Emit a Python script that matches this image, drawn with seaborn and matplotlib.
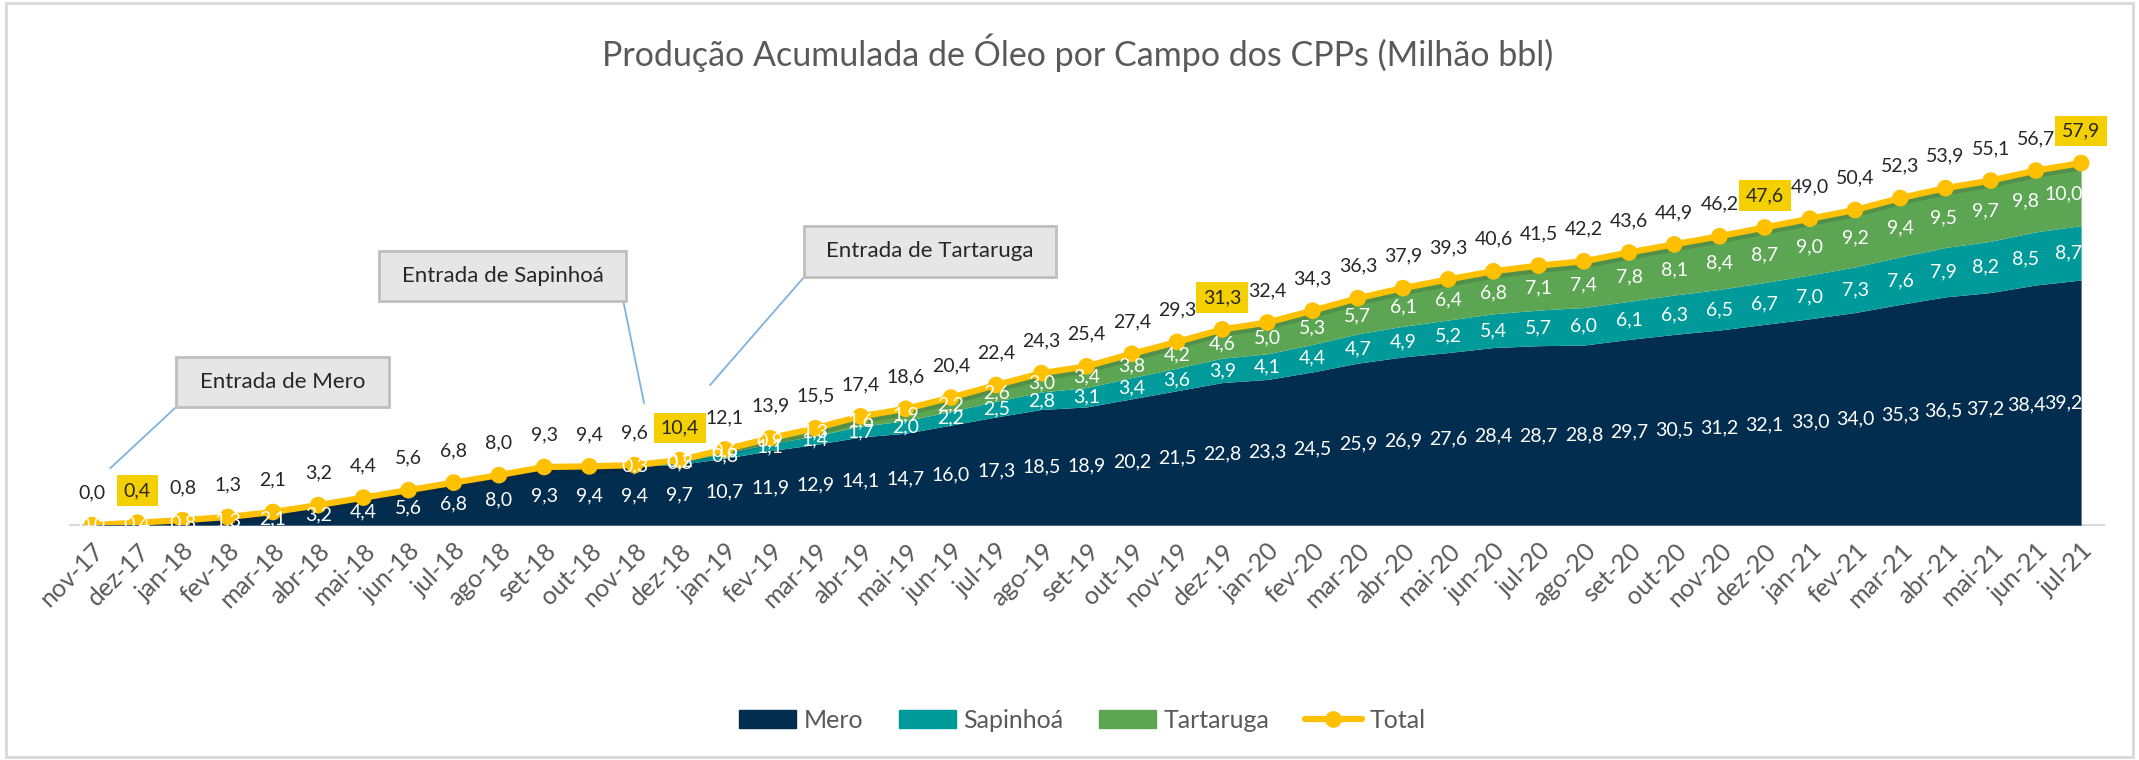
import numpy as np
import pandas as pd
import matplotlib
matplotlib.use('Agg')
import matplotlib.pyplot as plt
import matplotlib.patheffects as pe
from matplotlib.patches import Rectangle, Patch
from matplotlib.lines import Line2D
import seaborn as sns

# dados (milhão bbl, acumulado)
meses = ["nov-17", "dez-17",
         "jan-18", "fev-18", "mar-18", "abr-18", "mai-18", "jun-18", "jul-18", "ago-18", "set-18", "out-18", "nov-18", "dez-18",
         "jan-19", "fev-19", "mar-19", "abr-19", "mai-19", "jun-19", "jul-19", "ago-19", "set-19", "out-19", "nov-19", "dez-19",
         "jan-20", "fev-20", "mar-20", "abr-20", "mai-20", "jun-20", "jul-20", "ago-20", "set-20", "out-20", "nov-20", "dez-20",
         "jan-21", "fev-21", "mar-21", "abr-21", "mai-21", "jun-21", "jul-21"]
mero = [0.0, 0.4,
        0.8, 1.3, 2.1, 3.2, 4.4, 5.6, 6.8, 8.0, 9.3, 9.4, 9.4, 9.7,
        10.7, 11.9, 12.9, 14.1, 14.7, 16.0, 17.3, 18.5, 18.9, 20.2, 21.5, 22.8,
        23.3, 24.5, 25.9, 26.9, 27.6, 28.4, 28.7, 28.8, 29.7, 30.5, 31.2, 32.1,
        33.0, 34.0, 35.3, 36.5, 37.2, 38.4, 39.2]
sapinhoa = [None, None,
            None, None, None, None, None, None, None, None, None, None, 0.3, 0.5,
            0.8, 1.1, 1.4, 1.7, 2.0, 2.2, 2.5, 2.8, 3.1, 3.4, 3.6, 3.9,
            4.1, 4.4, 4.7, 4.9, 5.2, 5.4, 5.7, 6.0, 6.1, 6.3, 6.5, 6.7,
            7.0, 7.3, 7.6, 7.9, 8.2, 8.5, 8.7]
tartaruga = [None, None,
             None, None, None, None, None, None, None, None, None, None, None, 0.2,
             0.6, 0.9, 1.3, 1.6, 1.9, 2.2, 2.6, 3.0, 3.4, 3.8, 4.2, 4.6,
             5.0, 5.3, 5.7, 6.1, 6.4, 6.8, 7.1, 7.4, 7.8, 8.1, 8.4, 8.7,
             9.0, 9.2, 9.4, 9.5, 9.7, 9.8, 10.0]
total = [0.0, 0.4,
         0.8, 1.3, 2.1, 3.2, 4.4, 5.6, 6.8, 8.0, 9.3, 9.4, 9.6, 10.4,
         12.1, 13.9, 15.5, 17.4, 18.6, 20.4, 22.4, 24.3, 25.4, 27.4, 29.3, 31.3,
         32.4, 34.3, 36.3, 37.9, 39.3, 40.6, 41.5, 42.2, 43.6, 44.9, 46.2, 47.6,
         49.0, 50.4, 52.3, 53.9, 55.1, 56.7, 57.9]
destaques = ["dez-17", "dez-18", "dez-19", "dez-20", "jul-21"]

titulo = "Produção Acumulada de Óleo por Campo dos CPPs (Milhão bbl)"
series = ["Mero", "Sapinhoá", "Tartaruga"]
cores = ["#032D4E", "#009A9A", "#5CA553"]
amarelo = "#FFC000"
realce = "#F5D000"
cinza_txt = "#595959"
cinza_lin = "#D9D9D9"

sns.set_theme(style="white")
plt.rcParams['font.family'] = ['Lato', 'DejaVu Sans']

df = pd.DataFrame({"mes": meses, "Mero": mero, "Sapinhoá": sapinhoa,
                   "Tartaruga": tartaruga, "Total": total})
df["x"] = np.arange(len(df))
vals = df[series].fillna(0.0)
ultimo = len(df) - 1
# no fim da área os rótulos vão sendo puxados para a esquerda, como no Excel
desloc = {ultimo - 3: -0.05, ultimo - 2: -0.12, ultimo - 1: -0.22}

def fmt(v):
    return f"{v:.1f}".replace(".", ",")

fig = plt.figure(figsize=(21.39, 7.6), dpi=100)
ax = fig.add_axes([0.0325, 0.309, 0.951, 0.576])

ax.stackplot(df["x"], vals["Mero"], vals["Sapinhoá"], vals["Tartaruga"],
             colors=cores, zorder=1, linewidth=0)

sns.lineplot(data=df, x="x", y="Total", ax=ax, color=amarelo, linewidth=4.5,
             marker="o", markersize=12, markeredgewidth=0, legend=False, zorder=3)
ax.lines[-1].set_path_effects([pe.SimpleLineShadow(offset=(0, -3), shadow_color="k", alpha=0.15),
                               pe.Normal()])

# rótulos das áreas (centro de cada faixa)
base = np.zeros(len(df))
for s in series:
    for i, v in enumerate(df[s]):
        if pd.isna(v):
            continue
        xi, ha = i + desloc.get(i, 0.0), "center"
        if i == ultimo:
            xi, ha = i + 0.03, "right"
        ax.text(xi, base[i] + v / 2, fmt(v), color="white", ha=ha, va="center",
                fontsize=14, zorder=5)
    base = base + vals[s].values

# rótulos do total
for i, v in enumerate(total):
    box = None
    if meses[i] in destaques:
        box = dict(boxstyle="square,pad=0.35", fc=realce, ec="none")
    ax.annotate(fmt(v), (i, v), xytext=(0, 23), textcoords="offset points",
                ha="center", va="center", fontsize=14, color="#262626", bbox=box, zorder=6)

# caixas de chamada
chamadas = [("Entrada de Mero", 4.21, 22.96, 4.71, (1.86, 18.9), (0.40, 9.1)),
            ("Entrada de Sapinhoá", 9.08, 39.84, 5.46, (11.75, 35.84), (12.21, 19.5)),
            ("Entrada de Tartaruga", 18.54, 43.76, 5.58, (15.75, 39.68), (13.67, 22.4))]
for txt, cx, cy, w, p0, p1 in chamadas:
    ax.plot([p0[0], p1[0]], [p0[1], p1[1]], color="#7FB2E0", lw=1.3, zorder=4)
    ax.add_patch(Rectangle((cx - w / 2, cy - 4.0), w, 8.0, fc="#E7E6E6", ec="#BFBFBF",
                           lw=2, zorder=7))
    ax.text(cx, cy, txt, ha="center", va="center", fontsize=16, color="#262626", zorder=8)

ax.set_xlim(-0.5, len(df) - 0.5)
ax.set_ylim(0, 70)
ax.set_xticks(df["x"])
ax.set_xticklabels(meses, rotation=45, ha="right", rotation_mode="anchor",
                   fontsize=18, color=cinza_txt)
ax.set_xticks(np.arange(-0.5, len(df)), minor=True)
ax.tick_params(axis="x", which="major", length=0, pad=10)
ax.tick_params(axis="x", which="minor", length=7, width=1.5, color=cinza_lin, direction="out")
ax.set_yticks([])
ax.set_xlabel("")
ax.set_ylabel("")
for sp in ["top", "left", "right"]:
    ax.spines[sp].set_visible(False)
ax.spines["bottom"].set_color(cinza_lin)
ax.spines["bottom"].set_linewidth(1.5)
ax.spines["bottom"].set_zorder(0.5)

fig.text(0.504, 0.93, titulo, ha="center", va="center", fontsize=24.5, color=cinza_txt)

handles = [Patch(color=c) for c in cores]
handles.append(Line2D([], [], color=amarelo, lw=4.5, marker="o", markersize=12, markeredgewidth=0))
fig.legend(handles, series + ["Total"], loc="center", bbox_to_anchor=(0.506, 0.052), ncol=4,
           frameon=False, fontsize=18, labelcolor=cinza_txt, handlelength=2.3,
           handletextpad=0.3, columnspacing=1.4)

fig.patches.append(Rectangle((0.003, 0.004), 0.994, 0.992, transform=fig.transFigure,
                             fill=False, ec=cinza_lin, lw=2))

fig.savefig("out.png", dpi=100)
